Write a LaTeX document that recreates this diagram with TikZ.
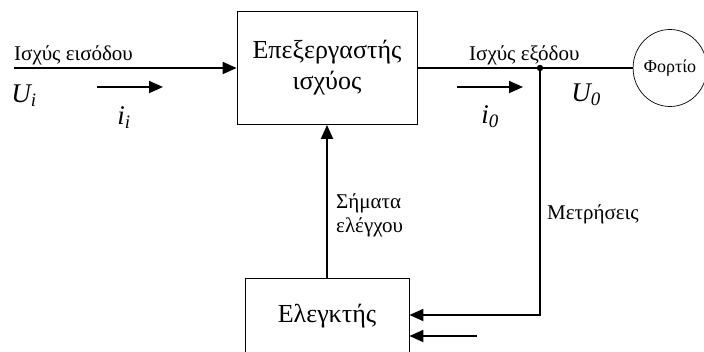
\documentclass[tikz,border=0pt]{standalone}
\usepackage{fontspec}
\setmainfont{Liberation Serif}
\usetikzlibrary{arrows.meta,positioning,shapes.geometric}

\begin{document}
\begin{tikzpicture}[x=1pt,y=-1pt,
  >={Triangle[length=14pt,width=12pt]},
  blk/.style ={draw,line width=0.8pt,align=center,inner sep=0pt,
               font=\fontsize{26}{31}\selectfont},
  wire/.style={line width=1.8pt},
  lbl/.style ={font=\fontsize{21}{24}\selectfont,inner sep=0pt},
  qty/.style ={font=\fontsize{27}{27}\selectfont\itshape,inner sep=0pt}]

\useasboundingbox (0,0) rectangle (704,351);

% ---------- blocks ----------
\node[blk,minimum width=180pt,minimum height=113pt] (proc) at (327,68) {Επεξεργαστής\\ισχύος};
\node[blk,minimum width=164pt,minimum height=76pt] (ctrl) at (327,316) {Ελεγκτής};
\node[ellipse,draw,line width=0.7pt,minimum width=63pt,minimum height=77pt,inner sep=0pt,
      font=\fontsize{18}{21}\selectfont] (load) at (670,68) {Φορτίο};

% ---------- power path ----------
\coordinate (in) at (14,68);
\coordinate (split) at (540,68);
\draw[wire,->] (in) -- (proc);
\draw[wire] (proc) -- (split) -- (load);
\fill (split) circle (3.2);

% ---------- feedback ----------
\coordinate (fb) at (540,315);
\coordinate (ext) at (477,336);
\draw[wire,->] (split) -- (fb) -- (fb -| ctrl.east);
\draw[wire,->] (ext) -- (ext -| ctrl.east);
\draw[wire,->] (ctrl) -- (proc);

% ---------- currents ----------
\coordinate (ii1) at (97,87);  \coordinate (ii2) at (163,87);
\coordinate (io1) at (457,87); \coordinate (io2) at (523,87);
\draw[wire,->] (ii1) -- (ii2);
\draw[wire,->] (io1) -- (io2);

% ---------- labels ----------
\node[lbl,anchor=base west] (pin)  at (14,60)  {Ισχύς εισόδου};
\node[lbl,anchor=base west] (pout) at (469,60) {Ισχύς εξόδου};
\node[lbl,align=left,anchor=west] (sig) at (336,215) {Σήματα\\ελέγχου};
\node[lbl,anchor=west] (meas) at (547,214) {Μετρήσεις};
\node[qty] (ui) at (24,96)  {U\textsubscript{i}};
\node[qty] (ii) at (124,118) {i\textsubscript{i}};
\node[qty] (uo) at (586,95) {U\textsubscript{0}};
\node[qty] (io) at (490,117) {i\textsubscript{0}};

\end{tikzpicture}
\end{document}
